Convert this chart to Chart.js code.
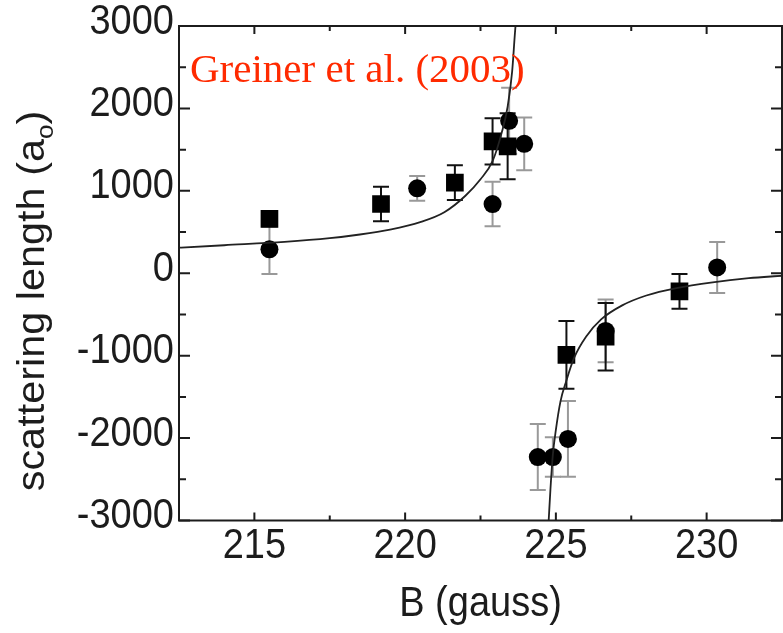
<!DOCTYPE html>
<html lang="en">
<head>
  <meta charset="UTF-8">
  <title>Scattering length vs B</title>
  <style>
    html, body { margin: 0; padding: 0; background: #fff; }
    #wrap { width: 783px; height: 633px; }
  </style>
  <script src="https://cdn.jsdelivr.net/npm/chart.js"></script>
</head>
<body>
  <div id="wrap"><canvas id="chart" width="783" height="633"></canvas></div>

  <script>
    // measured points, squares (black error bars)
    var squareB   = [215.5, 219.2, 221.65, 222.9, 223.4, 225.35, 226.65, 229.1];
    var squareA   = [660, 840, 1100, 1600, 1540, -990, -770, -220];
    var squareErr = [90, 210, 210, 280, 400, 410, 410, 210];

    // measured points, circles (grey error bars)
    var circleB   = [215.5, 220.4, 222.9, 223.45, 223.95, 224.4, 224.9, 225.4, 226.65, 230.35];
    var circleA   = [290, 1030, 840, 1850, 1570, -2230, -2230, -2010, -700, 70];
    var circleErr = [300, 150, 270, 400, 320, 400, 240, 460, 380, 310];

    // fitted curve (left and right of the resonance)
    var fitLeftB  = [212.5, 214, 216, 217.5, 218.5, 219.5, 220.5, 221.3, 222, 222.5, 222.9, 223.2, 223.4, 223.55, 223.65, 223.7];
    var fitLeftA  = [310, 340, 380, 425, 470, 530, 620, 740, 940, 1140, 1360, 1700, 2020, 2450, 2950, 3150];
    var fitRightB = [224.76, 224.82, 224.9, 225.0, 225.15, 225.35, 225.6, 226.0, 226.5, 227.2, 228.0, 229.0, 230.2, 231.4, 232.5];
    var fitRightA = [-3010, -2620, -2200, -1900, -1560, -1300, -1030, -770, -560, -390, -270, -180, -110, -60, -30];

    // axes
    var xMajor = [215, 220, 225, 230];
    var xMinor = [217.5, 222.5, 227.5];
    var yMajor = [-3000, -2000, -1000, 0, 1000, 2000, 3000];
    var yMinor = [-2500, -1500, -500, 500, 1500, 2500];

    var annotation = 'Greiner et al. (2003)';
    var xTitle = 'B (gauss)';
    var yTitle = 'scattering length (a';

    var inkColor = '#1c1c1c';
    var sansFont = '"Liberation Sans", Arial, sans-serif';
    var stretch = 1.1; // the source lettering is a bit taller than Arial

    function toXY(bs, as) {
      var out = [];
      for (var i = 0; i < bs.length; i++) out.push({ x: bs[i], y: as[i] });
      return out;
    }

    function tallText(ctx, text, x, y, align) {
      ctx.save();
      ctx.translate(x, y);
      ctx.scale(1, stretch);
      ctx.textAlign = align;
      ctx.textBaseline = 'middle';
      ctx.fillText(text, 0, 0);
      ctx.restore();
    }

    // error bars drawn under the markers
    var errorBars = {
      id: 'errorBars',
      beforeDatasetsDraw: function (chart) {
        var ctx = chart.ctx, xs = chart.scales.x, ys = chart.scales.y;
        var area = chart.chartArea;
        function draw(bs, as, errs, color) {
          ctx.strokeStyle = color;
          ctx.lineWidth = 2;
          for (var i = 0; i < bs.length; i++) {
            var px = xs.getPixelForValue(bs[i]);
            var top = ys.getPixelForValue(as[i] + errs[i]);
            var bot = ys.getPixelForValue(as[i] - errs[i]);
            ctx.beginPath();
            ctx.moveTo(px, top); ctx.lineTo(px, bot);
            ctx.moveTo(px - 8, top); ctx.lineTo(px + 8, top);
            ctx.moveTo(px - 8, bot); ctx.lineTo(px + 8, bot);
            ctx.stroke();
          }
        }
        ctx.save();
        ctx.beginPath();
        ctx.rect(area.left, area.top, area.right - area.left, area.bottom - area.top);
        ctx.clip();
        draw(circleB, circleA, circleErr, '#999999');
        draw(squareB, squareA, squareErr, '#111111');
        ctx.restore();
      }
    };

    // frame, inward ticks, labels, titles and the red label
    var frame = {
      id: 'frame',
      afterDraw: function (chart) {
        var ctx = chart.ctx, xs = chart.scales.x, ys = chart.scales.y;
        var a = chart.chartArea;
        ctx.save();
        ctx.strokeStyle = inkColor;
        ctx.lineWidth = 2;
        ctx.strokeRect(a.left, a.top, a.right - a.left, a.bottom - a.top);

        ctx.beginPath();
        function xt(v, len) {
          var p = xs.getPixelForValue(v);
          ctx.moveTo(p, a.bottom); ctx.lineTo(p, a.bottom - len);
          ctx.moveTo(p, a.top); ctx.lineTo(p, a.top + len);
        }
        function yt(v, len) {
          var p = ys.getPixelForValue(v);
          ctx.moveTo(a.left, p); ctx.lineTo(a.left + len, p);
          ctx.moveTo(a.right, p); ctx.lineTo(a.right - len, p);
        }
        xMajor.forEach(function (v) { xt(v, 8); });
        xMinor.forEach(function (v) { xt(v, 5); });
        yMajor.forEach(function (v) { yt(v, 11); });
        yMinor.forEach(function (v) { yt(v, 7); });
        ctx.stroke();

        // tick labels
        ctx.fillStyle = inkColor;
        ctx.font = '38px ' + sansFont;
        xMajor.forEach(function (v) {
          tallText(ctx, String(v), xs.getPixelForValue(v), a.bottom + 26, 'center');
        });
        yMajor.forEach(function (v) {
          tallText(ctx, String(v), a.left - 5, ys.getPixelForValue(v) - 4, 'right');
        });

        // x title
        tallText(ctx, xTitle, (a.left + a.right) / 2, 604, 'center');

        // y title with subscript, stretched along the text
        ctx.save();
        ctx.translate(34, 301);
        ctx.rotate(-Math.PI / 2);
        ctx.scale(1.09, 1);
        ctx.font = '38px ' + sansFont;
        var w1 = ctx.measureText(yTitle).width;
        ctx.font = '24px ' + sansFont;
        var w2 = ctx.measureText('o').width;
        ctx.font = '38px ' + sansFont;
        var w3 = ctx.measureText(')').width;
        var x0 = -(w1 + w2 + w3) / 2;
        ctx.textAlign = 'left';
        ctx.textBaseline = 'middle';
        ctx.fillText(yTitle, x0, 0);
        ctx.font = '24px ' + sansFont;
        ctx.fillText('o', x0 + w1, 12);
        ctx.font = '38px ' + sansFont;
        ctx.fillText(')', x0 + w1 + w2, 0);
        ctx.restore();

        // red label
        ctx.fillStyle = '#ff2a00';
        ctx.font = '41px "Liberation Serif", "Times New Roman", serif';
        ctx.textAlign = 'left';
        ctx.textBaseline = 'alphabetic';
        ctx.fillText(annotation, 190, 82);
        ctx.restore();
      }
    };

    var ctx = document.getElementById('chart').getContext('2d');
    var myChart = new Chart(ctx, {
      type: 'scatter',
      data: {
        datasets: [
          {
            type: 'line',
            data: toXY(fitLeftB, fitLeftA),
            borderColor: '#222222',
            borderWidth: 1.8,
            pointRadius: 0,
            cubicInterpolationMode: 'monotone',
            fill: false
          },
          {
            type: 'line',
            data: toXY(fitRightB, fitRightA),
            borderColor: '#222222',
            borderWidth: 1.8,
            pointRadius: 0,
            cubicInterpolationMode: 'monotone',
            fill: false
          },
          {
            data: toXY(squareB, squareA),
            pointStyle: 'rect',
            pointRadius: 12.5,
            backgroundColor: '#000000',
            borderColor: '#000000',
            borderWidth: 0
          },
          {
            data: toXY(circleB, circleA),
            pointStyle: 'circle',
            pointRadius: 9,
            backgroundColor: '#000000',
            borderColor: '#000000',
            borderWidth: 0
          }
        ]
      },
      options: {
        responsive: false,
        animation: false,
        layout: { autoPadding: false, padding: { top: 26, right: 1, left: 0, bottom: 0 } },
        plugins: { legend: { display: false }, tooltip: { enabled: false } },
        scales: {
          x: {
            type: 'linear',
            min: 212.5,
            max: 232.5,
            afterFit: function (s) {
              s.height = 112.5;
              s.paddingLeft = 0;
              s.paddingRight = 0;
            },
            grid: { display: false, drawTicks: false },
            border: { display: false },
            ticks: { display: false }
          },
          y: {
            type: 'linear',
            min: -3000,
            max: 3000,
            afterFit: function (s) {
              s.width = 179;
              s.paddingTop = 0;
              s.paddingBottom = 0;
            },
            grid: { display: false, drawTicks: false },
            border: { display: false },
            ticks: { display: false }
          }
        }
      },
      plugins: [errorBars, frame]
    });
  </script>
</body>
</html>
